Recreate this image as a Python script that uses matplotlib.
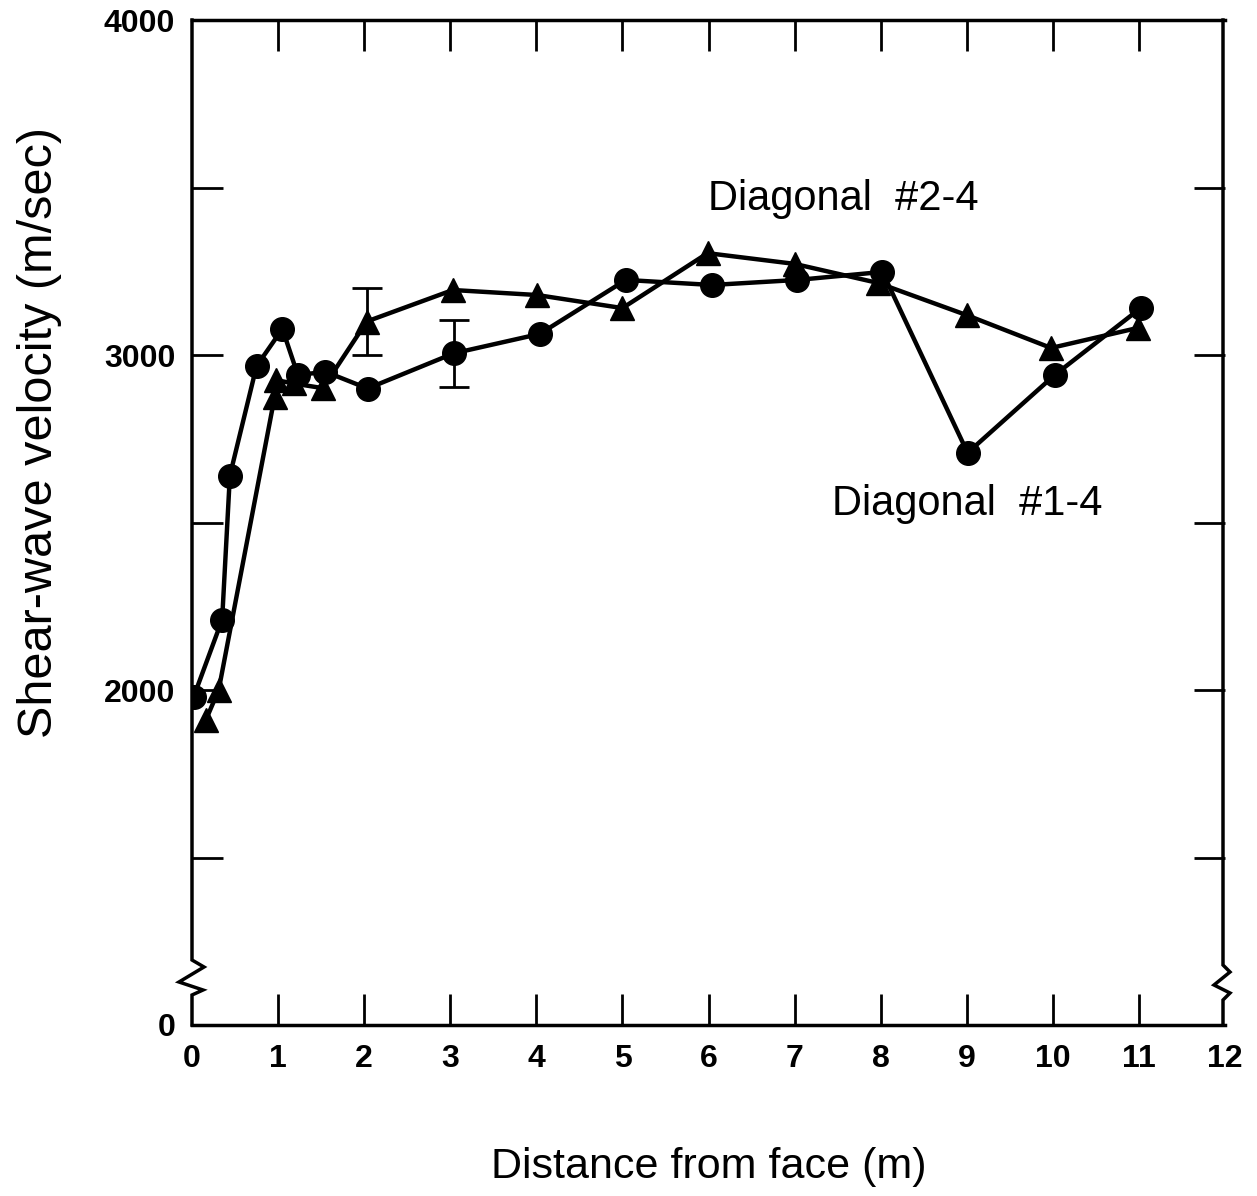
import numpy as np
import matplotlib
matplotlib.use("Agg")
import matplotlib.pyplot as plt

plt.rcParams['font.family'] = ['Liberation Sans', 'DejaVu Sans']

# Diagonal #1-4 (circles)
d14_x = [0.02, 0.35, 0.44, 0.75, 1.05, 1.23, 1.55, 2.04, 3.04, 4.04, 5.04, 6.04, 7.03, 8.02, 9.01, 10.02, 11.02]
d14_v = [1980, 2210, 2640, 2967, 3078, 2940, 2950, 2900, 3005, 3063, 3224, 3209, 3224, 3248, 2708, 2940, 3140]

# Diagonal #2-4 (triangles)
d24_x = [0.16, 0.31, 0.96, 0.98, 1.18, 1.52, 2.03, 3.03, 4.01, 5.0, 5.99, 7.0, 7.97, 9.0, 9.98, 10.99]
d24_v = [1910, 2000, 2875, 2925, 2915, 2901, 3100, 3194, 3179, 3140, 3304, 3272, 3215, 3119, 3021, 3081]

# error bars: (x, value, half-range)
err_x = [2.03, 3.04]
err_v = [3100, 3005]
err_h = [100, 100]

x_ticks = list(range(13))
y_ticks = [1000, 2000, 3000, 4000]
y_labels = ['0', '2000', '3000', '4000']
y_minor = [1500, 2500, 3500]

fig = plt.figure(figsize=(12.57, 11.96), dpi=100)
ax = fig.add_axes([192/1257, 1 - 1025/1196, 1033/1257, 1005/1196])

lw = 3.2
ax.plot(d24_x, d24_v, color='black', lw=lw, marker='^', ms=17, zorder=3)
ax.plot(d14_x, d14_v, color='black', lw=lw, marker='o', ms=17, zorder=4)
ax.errorbar(err_x, err_v, yerr=err_h, fmt='none', ecolor='black',
            elinewidth=2, capsize=11, capthick=2, zorder=2)

ax.set_xlim(0, 12)
ax.set_ylim(1000, 4000)

ax.set_xticks(x_ticks)
ax.set_xticklabels([str(t) for t in x_ticks], fontsize=23, fontweight='bold')
ax.set_yticks(y_ticks)
ax.set_yticklabels(y_labels, fontsize=23, fontweight='bold')
ax.set_yticks(y_minor, minor=True)
ax.tick_params(axis='both', which='both', direction='in', length=22, width=2,
               top=True, right=True)
ax.tick_params(axis='x', pad=14)
ax.tick_params(axis='y', pad=12)
# no tick marks at the corners
for t in ax.xaxis.get_major_ticks()[::12]:
    t.tick1line.set_visible(False)
    t.tick2line.set_visible(False)
for t in [ax.yaxis.get_major_ticks()[0], ax.yaxis.get_major_ticks()[-1]]:
    t.tick1line.set_visible(False)
    t.tick2line.set_visible(False)

for s in ['top', 'bottom']:
    ax.spines[s].set_linewidth(2.5)
ax.spines['left'].set_visible(False)
ax.spines['right'].set_visible(False)

# side spines drawn by hand with a zigzag break near the bottom
W, H = 1033.0, 1005.0
def side(x0, pts):
    xs = [x0 + dx / W for dx, dy in pts]
    ys = [(1025 - dy) / H for dx, dy in pts]
    ax.plot(xs, ys, color='black', lw=2.5, transform=ax.transAxes,
            clip_on=False, zorder=5, solid_joinstyle='miter')

side(0, [(0, 20), (0, 960), (12, 967), (-13, 982), (11, 990), (0, 995), (0, 1025)])
side(1, [(-2, 20), (-2, 965), (5, 972), (-11, 985), (5, 993), (-2, 1000), (-2, 1025)])

ax.set_xlabel('Distance from face (m)', fontsize=31)
ax.xaxis.set_label_coords(0.5, -0.121)
ax.set_ylabel('Shear-wave velocity (m/sec)', fontsize=35)
ax.yaxis.set_label_coords(-0.126, 0.59)

ax.text(6.0, 3465, 'Diagonal  #2-4', fontsize=30, ha='left', va='center')
ax.text(7.43, 2555, 'Diagonal  #1-4', fontsize=30, ha='left', va='center')

fig.savefig('out.png', dpi=100)
